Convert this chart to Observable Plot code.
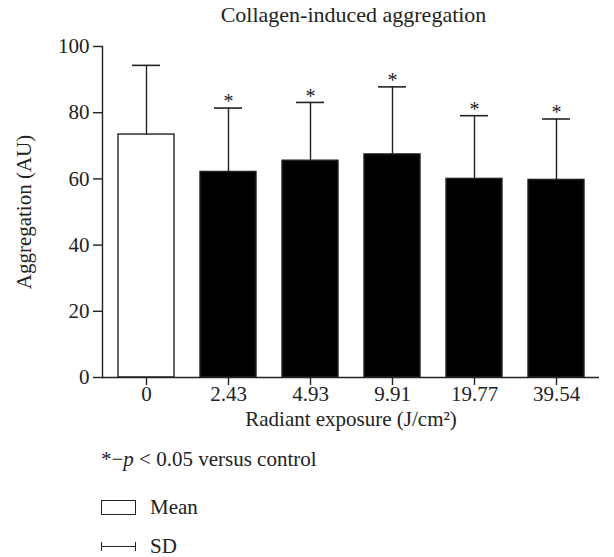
<!DOCTYPE html>
<html>
<head>
<meta charset="utf-8">
<script src="https://cdn.jsdelivr.net/npm/d3@7"></script>
<script src="https://cdn.jsdelivr.net/npm/@observablehq/plot@0.6"></script>
<style>
  html, body { margin: 0; padding: 0; background: white; }
  body { width: 614px; height: 557px; overflow: hidden; font-family: "Liberation Serif", serif; color: #222; }
  svg, svg text { font-family: "Liberation Serif", serif !important; }
  #title { height: 36px; box-sizing: border-box; padding-top: 4px; padding-left: 108px; width: 599px; text-align: center; font-size: 22px; line-height: 22px; }
  #legend { margin-left: 101px; font-size: 21px; line-height: 21px; }
  #legend .row { display: flex; align-items: center; height: 21px; }
  #legend .r1 { margin-top: 23px; }
  #legend .r2 { margin-top: 27px; }
  #legend .r3 { margin-top: 18px; }
  .box { display: inline-block; width: 33px; height: 13px; border: 1.4px solid #222; margin-right: 14px; }
  .sd { display: inline-block; width: 35px; height: 9px; position: relative; margin-right: 14px; }
  .sd::before { content: ""; position: absolute; left: 0; right: 0; top: 4px; border-top: 1.4px solid #222; }
  .sd::after { content: ""; position: absolute; left: 0; right: 0; top: 0; bottom: 0; border-left: 1.4px solid #222; border-right: 1.4px solid #222; }
</style>
</head>
<body>
<div id="title">Collagen-induced aggregation</div>
<div id="chart"></div>
<div id="legend">
  <div class="row r1"><span>*−<i>p</i> &lt; 0.05 versus control</span></div>
  <div class="row r2"><span class="box"></span><span>Mean</span></div>
  <div class="row r3"><span class="sd"></span><span>SD</span></div>
</div>
<script>
const categories = ["0", "2.43", "4.93", "9.91", "19.77", "39.54"];
const means = [73.4, 62.1, 65.5, 67.4, 60.0, 59.7];
const sdTops = [94.3, 81.4, 83.1, 87.8, 79.1, 78.1];
const significant = [false, true, true, true, true, true];
const barFills = ["white", "black", "black", "black", "black", "black"];
const yTicks = [0, 20, 40, 60, 80, 100];

const data = categories.map((c, i) => ({cat: c, mean: means[i], top: sdTops[i], sig: significant[i], fill: barFills[i]}));
const ink = "#222";
const serif = "Liberation Serif";

const chart = Plot.plot({
  width: 614,
  height: 390,
  marginTop: 10,
  marginLeft: 102,
  marginRight: 15,
  marginBottom: 49,
  style: {fontFamily: serif, fontSize: "21px", color: ink, background: "white", overflow: "visible"},
  x: {domain: categories, paddingInner: 0.32, paddingOuter: 0.16},
  y: {domain: [0, 100]},
  color: {type: "identity"},
  marks: [
    Plot.barY(data, {x: "cat", y: "mean", fill: "fill", stroke: ink, strokeWidth: 1.4}),
    Plot.ruleX(data, {x: "cat", y1: "mean", y2: "top", stroke: ink, strokeWidth: 1.4}),
    Plot.tickY(data, {x: "cat", y: "top", insetLeft: 14, insetRight: 14, stroke: ink, strokeWidth: 1.6}),
    Plot.text(data.filter(d => d.sig), {x: "cat", y: "top", text: () => "*", dy: -6, fontSize: 20, fontFamily: serif}),
    Plot.axisY({ticks: yTicks, tickSize: 9, tickPadding: 4, strokeWidth: 1.4, fontFamily: serif, fontSize: 21, label: "Aggregation (AU)", labelAnchor: "center", labelArrow: "none", labelOffset: 86}),
    Plot.axisX({tickSize: 8, tickPadding: 1, strokeWidth: 1.4, fontFamily: serif, fontSize: 21, label: "Radiant exposure (J/cm²)", labelAnchor: "center", labelArrow: "none", labelOffset: 48}),
    Plot.frame({anchor: "left", stroke: ink, strokeWidth: 1.4}),
    Plot.ruleY([0], {stroke: ink, strokeWidth: 1.4})
  ]
});
document.getElementById("chart").appendChild(chart);
</script>
</body>
</html>
